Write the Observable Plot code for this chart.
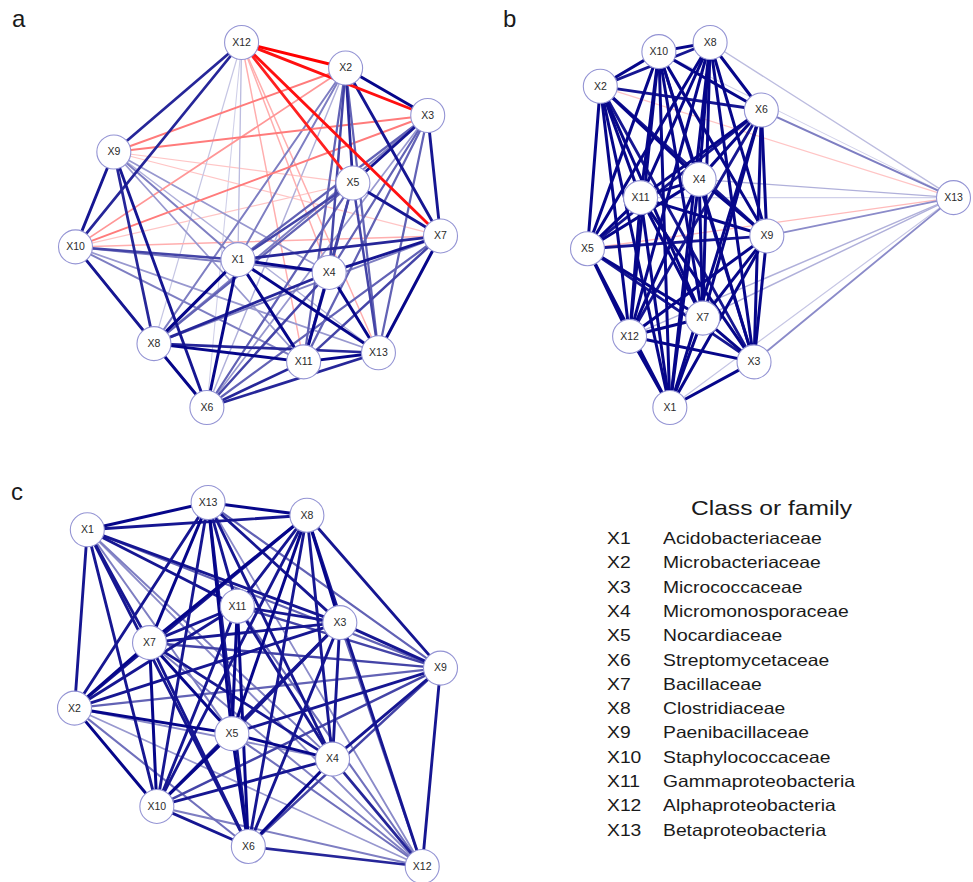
<!DOCTYPE html>
<html>
<head>
<meta charset="utf-8">
<script src="https://cdn.jsdelivr.net/npm/d3@7"></script>
<script src="https://cdn.jsdelivr.net/npm/@observablehq/plot@0.6"></script>
<style>
  html, body { margin: 0; padding: 0; background: #fff; }
  #fig { position: relative; width: 973px; height: 882px; font-family: "Liberation Sans", Arial, sans-serif; color: #1a1a1a; }
  .panel { position: absolute; }
  .tag { position: absolute; font-size: 24px; line-height: 1; }
  .legend-title { position: absolute; font-size: 21px; line-height: 1; transform: scaleX(1.17); transform-origin: left top; white-space: nowrap; }
  .legend-row { position: absolute; font-size: 16.5px; line-height: 1; transform: scaleX(1.17); transform-origin: left top; white-space: nowrap; }
</style>
</head>
<body>
<div id="fig"></div>
<script>
// Taxa shown as network nodes
const taxa = ["X1", "X2", "X3", "X4", "X5", "X6", "X7", "X8", "X9", "X10", "X11", "X12", "X13"];
const families = [
  "Acidobacteriaceae", "Microbacteriaceae", "Micrococcaceae", "Micromonosporaceae",
  "Nocardiaceae", "Streptomycetaceae", "Bacillaceae", "Clostridiaceae",
  "Paenibacillaceae", "Staphylococcaceae", "Gammaproteobacteria",
  "Alphaproteobacteria", "Betaproteobacteria"
];

// Network layouts (rescaled to [-1, 1], y pointing up), one per network
const layoutAx = [-0.11, 0.48, 0.93, 0.39, 0.52, -0.28, 1.00, -0.57, -0.79, -1.00, 0.25, -0.09, 0.66];
const layoutAy = [-0.19, 0.86, 0.60, -0.26, 0.23, -1.00, -0.06, -0.65, 0.40, -0.12, -0.75, 1.00, -0.70];
const layoutBx = [-0.55, -0.93, -0.09, -0.39, -1.00, -0.05, -0.37, -0.33, -0.02, -0.61, -0.71, -0.77, 1.00];
const layoutBy = [-1.00, 0.76, -0.75, 0.25, -0.13, 0.63, -0.51, 1.00, -0.06, 0.95, 0.15, -0.61, 0.15];
const layoutCx = [-0.93, -1.00, 0.45, 0.41, -0.14, -0.05, -0.59, 0.27, 1.00, -0.55, -0.11, 0.90, -0.27];
const layoutCy = [0.85, -0.13, 0.34, -0.41, -0.27, -0.89, 0.23, 0.93, 0.09, -0.67, 0.43, -1.00, 1.00];

// Correlations, lower triangle: row k holds taxon k+2 against X1..X(k+1)
const corrA = [
  [0.50],
  [0.60, 0.90],
  [0.90, 0.70, 0.60],
  [0.70, 0.80, 0.85, 0.70],
  [0.90, 0.30, 0.40, 0.70, 0.60],
  [0.80, 0.85, 0.85, 0.85, 0.85, 0.60],
  [0.90, 0.50, 0.50, 0.80, 0.60, 0.90, 0.50],
  [0.50, -0.50, -0.50, 0.40, -0.20, 0.85, -0.20, 0.80],
  [0.70, -0.40, -0.50, 0.50, -0.20, 0.50, -0.30, 0.85, 0.85],
  [0.90, 0.60, 0.60, 0.90, 0.70, 0.80, 0.70, 0.90, 0.40, 0.50],
  [0.25, -0.90, -0.85, -0.30, -0.80, 0.15, -0.85, 0.20, 0.80, 0.80, -0.30],
  [0.90, 0.60, 0.60, 0.90, 0.70, 0.80, 0.90, 0.80, 0.30, 0.40, 0.90, -0.30]
];
const corrB = [
  [0.90],
  [0.90, 0.85],
  [0.90, 0.90, 0.90],
  [0.90, 0.90, 0.85, 0.90],
  [0.90, 0.85, 0.90, 0.90, 0.85],
  [0.90, 0.90, 0.90, 0.90, 0.90, 0.90],
  [0.90, 0.85, 0.90, 0.90, 0.90, 0.90, 0.90],
  [0.90, 0.85, 0.90, 0.90, 0.85, 0.90, 0.90, 0.90],
  [0.90, 0.90, 0.85, 0.90, 0.90, 0.90, 0.90, 0.90, 0.90],
  [0.90, 0.90, 0.90, 0.90, 0.90, 0.90, 0.90, 0.90, 0.90, 0.90],
  [0.90, 0.90, 0.90, 0.90, 0.90, 0.85, 0.90, 0.90, 0.90, 0.90, 0.90],
  [0.20, -0.20, 0.45, 0.30, -0.25, 0.50, 0.30, 0.25, 0.45, 0.15, 0.15, 0.30]
];
const corrC = [
  [0.85],
  [0.85, 0.85],
  [0.50, 0.45, 0.85],
  [0.50, 0.90, 0.85, 0.90],
  [0.85, 0.55, 0.85, 0.90, 0.90],
  [0.85, 0.90, 0.85, 0.85, 0.90, 0.85],
  [0.85, 0.85, 0.90, 0.85, 0.90, 0.85, 0.90],
  [0.60, 0.60, 0.85, 0.85, 0.85, 0.70, 0.70, 0.85],
  [0.85, 0.90, 0.85, 0.85, 0.90, 0.85, 0.90, 0.85, 0.70],
  [0.85, 0.85, 0.85, 0.85, 0.90, 0.90, 0.85, 0.85, 0.70, 0.85],
  [0.45, 0.40, 0.60, 0.80, 0.55, 0.80, 0.50, 0.85, 0.85, 0.50, 0.55],
  [0.90, 0.85, 0.85, 0.85, 0.90, 0.85, 0.90, 0.90, 0.60, 0.85, 0.85, 0.45]
];

const POS = "#06068a", NEG = "#ff0000";
const strength = w => Math.min(1, Math.abs(w) / 0.9);
const edgeColor = w => d3.interpolateRgb("#ffffff", w > 0 ? POS : NEG)(0.1 + 0.9 * Math.pow(strength(w), 1.3));
const edgeWidth = w => 0.7 + 2.3 * strength(w);

function network(lx, ly, corr, frame) {
  const nodes = taxa.map((name, i) => ({name, x: lx[i], y: ly[i]}));
  const edges = [];
  corr.forEach((row, k) => row.forEach((w, j) => edges.push({a: nodes[k + 1], b: nodes[j], w})));
  edges.sort((p, q) => Math.abs(p.w) - Math.abs(q.w));
  return Plot.plot({
    width: frame.w, height: frame.h, margin: 0,
    style: {fontFamily: "'Liberation Sans', Arial, sans-serif", background: "transparent", overflow: "visible"},
    x: {domain: [-1, 1], range: frame.xr, axis: null},
    y: {domain: [-1, 1], range: frame.yr, axis: null},
    color: {type: "identity"},
    marks: [
      Plot.link(edges, {
        x1: d => d.a.x, y1: d => d.a.y, x2: d => d.b.x, y2: d => d.b.y,
        stroke: d => edgeColor(d.w), strokeWidth: d => edgeWidth(d.w), strokeLinecap: "round"
      }),
      Plot.dot(nodes, {x: "x", y: "y", r: 17, fill: "white", stroke: "#9494d4", strokeWidth: 1.1}),
      Plot.text(nodes, {x: "x", y: "y", text: "name", fontSize: 10.5, fill: "#2a2a2a"})
    ]
  });
}

const fig = document.getElementById("fig");
function place(el, left, top) {
  el.classList.add("panel");
  el.style.left = left + "px";
  el.style.top = top + "px";
  fig.appendChild(el);
}

place(network(layoutAx, layoutAy, corrA, {w: 486, h: 440, xr: [75, 440], yr: [407, 42]}), 0, 0);
place(network(layoutBx, layoutBy, corrB, {w: 487, h: 440, xr: [101, 467], yr: [407, 42]}), 486, 0);
place(network(layoutCx, layoutCy, corrC, {w: 486, h: 442, xr: [74, 440], yr: [426, 62]}), 0, 440);

// Panel tags
[["a", 12, 7], ["b", 503, 7], ["c", 11, 480]].forEach(([t, x, y]) => {
  const d = document.createElement("div");
  d.className = "tag";
  d.textContent = t;
  d.style.left = x + "px";
  d.style.top = y + "px";
  fig.appendChild(d);
});

// Legend: taxon codes and their class or family
const title = document.createElement("div");
title.className = "legend-title";
title.textContent = "Class or family";
title.style.left = "691px";
title.style.top = "497px";
fig.appendChild(title);

taxa.forEach((code, i) => {
  const top = 530 + i * 24.3;
  const c = document.createElement("div");
  c.className = "legend-row";
  c.textContent = code;
  c.style.left = "607px";
  c.style.top = top + "px";
  fig.appendChild(c);
  const n = document.createElement("div");
  n.className = "legend-row";
  n.textContent = families[i];
  n.style.left = "663px";
  n.style.top = top + "px";
  fig.appendChild(n);
});
</script>
</body>
</html>
